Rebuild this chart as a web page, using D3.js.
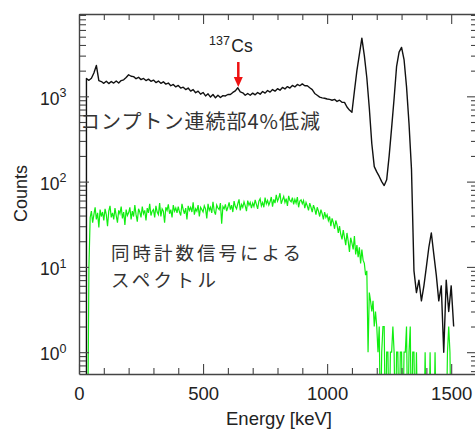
<!DOCTYPE html>
<html>
<head>
<meta charset="utf-8">
<script src="https://cdn.jsdelivr.net/npm/d3@7"></script>
<style>
  body { margin: 0; background: #fff; }
  svg { display: block; }
</style>
</head>
<body>
<div id="chart"></div>
<script>
// 通常スペクトル (黒): 30 keV から 10 keV ごとのカウント
const blackStart = 30, blackStep = 10;
const blackCounts = [
  1620, 1540, 1630, 1880, 2300, 1530, 1490, 1420, 1500, 1410,   // 30-120
  1490, 1430, 1510, 1430, 1530, 1560, 1660, 1790, 1720, 1700,   // 130-220
  1610, 1670, 1570, 1620, 1530, 1590, 1500, 1550, 1450, 1510,   // 230-320
  1420, 1480, 1390, 1430, 1330, 1380, 1290, 1340, 1250, 1280,   // 330-420
  1200, 1250, 1150, 1200, 1100, 1150, 1060, 1110, 1010, 1070,   // 430-520
  980, 1050, 960, 1030, 970, 1020, 1010, 1050, 1050, 1110,      // 530-620
  1160, 1260, 1130, 1100, 1030, 1080, 1030, 1090, 1040, 1110,   // 630-720
  1060, 1140, 1090, 1170, 1120, 1200, 1150, 1230, 1180, 1270,   // 730-820
  1220, 1300, 1250, 1340, 1290, 1380, 1330, 1400, 1330, 1330,   // 830-920
  1260, 1200, 1080, 1030, 980, 960, 950, 930, 920, 900,         // 930-1020
  920, 870, 900, 850, 850, 750, 690, 650, 1150, 2000,           // 1030-1120
  3100, 4800, 3000, 1650, 730, 280, 150, 130, 115, 100,         // 1130-1220
  90, 105, 200, 430, 950, 2250, 3300, 3750, 2700, 1300,         // 1230-1320
  480, 140, 9, 5, 7, 4, 6, 10, 17, 25,                          // 1330-1420
  14, 8, 4, 6, 1, 7, 3, 6, 2                                    // 1430-1510
];

// 同時計数信号によるスペクトル (緑): 35 keV から 5 keV ごとのカウント
const greenStart = 35, greenStep = 5;
const greenCounts = [
  0, 10,
  38, 45, 33, 41, 50, 36, 43, 29, 47, 39, 44,                               // 45-95
  35, 48, 41, 30, 45, 52, 38, 43, 36, 49, 40, 33, 46, 42, 51, 37, 44, 31, 47, 40, // 100-195
  43, 50, 36, 45, 39, 53, 41, 34, 48, 44, 38, 51, 42, 46, 35, 49, 43, 55, 40, 45, // 200-295
  47, 38, 52, 44, 41, 56, 39, 48, 45, 33, 50, 46, 54, 42, 47, 38, 53, 45, 49, 43, // 300-395
  51, 44, 40, 55, 47, 42, 49, 36, 52, 46, 50, 44, 57, 41, 48, 45, 53, 39, 50, 47, // 400-495
  44, 52, 48, 37, 55, 46, 50, 43, 58, 45, 41, 53, 49, 47, 56, 32, 51, 48, 54, 45, // 500-595
  50, 57, 47, 53, 44, 59, 51, 48, 55, 62, 46, 54, 50, 58, 52, 45, 60, 53, 57, 49, // 600-695
  56, 51, 61, 54, 48, 59, 63, 52, 57, 50, 65, 55, 60, 53, 58, 66, 51, 62, 56, 70, // 700-795
  59, 64, 73, 55, 61, 67, 57, 63, 52, 68, 60, 58, 65, 54, 62, 56, 66, 50, 59, 61, // 800-895
  55, 60, 49, 57, 52, 46, 56, 50, 44, 53, 48, 41, 50, 45, 39, 47, 42, 36, 44, 38, // 900-995
  41, 35, 39, 30, 37, 33, 28, 35, 31, 25, 30, 24, 21, 27, 22, 18, 25, 20, 15, 22, // 1000-1095
  19, 16, 23, 14, 18, 13, 17, 11, 16, 12, 11, 8, 9, 1, 5, 4, 3, 4, 2, 3,          // 1100-1195
  2, 1, 2, 0, 1, 2, 2, 0, 1, 1, 0, 1, 1, 2, 1, 0, 1, 1, 0, 1,                     // 1200-1295
  1, 0, 1, 1, 2, 0, 1, 2, 0, 1, 1, 0, 1, 0, 0, 0, 0, 0, 0, 1,                     // 1300-1395
  0, 0, 0, 1, 0, 0, 0, 1, 0, 0, 0, 0, 0, 0, 0, 0, 0, 1, 2, 1,                     // 1400-1495
  0                                                                               // 1500
];

// 目盛り
const xMajorTicks = [0, 500, 1000, 1500];
const yMajorTicks = [1, 10, 100, 1000];
const yExponents = ["0", "1", "2", "3"];

// 注記
const csEnergy = 642;
const textCompton = "コンプトン連続部4%低減";
const textCoinc1 = "同時計数信号による";
const textCoinc2 = "スペクトル";

const width = 475, height = 429;
const plotLeft = 79, plotRight = 476, plotTop = 14, plotBottom = 374;
const axisColor = "#444";
const latin = "'Liberation Sans', Arial, sans-serif";
const cjk = "'Noto Sans CJK JP', sans-serif";

const svg = d3.select("#chart").append("svg")
    .attr("width", width)
    .attr("height", height);

const x = d3.scaleLinear().domain([0, 1600]).range([plotLeft, plotRight]);
const y = d3.scaleLog().domain([0.555, 9230]).range([plotBottom, plotTop]);

svg.append("defs").append("clipPath").attr("id", "plot-clip")
    .append("rect")
    .attr("x", plotLeft).attr("y", plotTop)
    .attr("width", plotRight - plotLeft).attr("height", plotBottom - plotTop);

// データ点
const floor = 0.1; // 0カウントは軸の下へ
const blackData = blackCounts.map((c, i) => ({ e: blackStart + i * blackStep, c: c }));
blackData.unshift({ e: blackStart, c: 0 });
const greenData = greenCounts.map((c, i) => ({ e: greenStart + i * greenStep, c: c }));

const line = d3.line()
    .x(d => x(d.e))
    .y(d => y(Math.max(d.c, floor)));

const plot = svg.append("g").attr("clip-path", "url(#plot-clip)");

plot.append("path")
    .datum(blackData)
    .attr("fill", "none")
    .attr("stroke", "#111")
    .attr("stroke-width", 1.4)
    .attr("stroke-linejoin", "round")
    .attr("d", line);

plot.append("path")
    .datum(greenData)
    .attr("fill", "none")
    .attr("stroke", "#11ee11")
    .attr("stroke-width", 1.2)
    .attr("d", line);

// 軸
const xMinor = x.ticks(16).filter(v => v % 500 !== 0);
const yMinor = y.ticks().filter(v => !yMajorTicks.includes(v));

function styleAxis(g) {
    g.selectAll("line").attr("stroke", axisColor).attr("stroke-width", 1.1);
    g.selectAll(".domain").attr("stroke", axisColor).attr("stroke-width", 1.4);
}

// 下
svg.append("g")
    .attr("transform", `translate(0,${plotBottom})`)
    .call(d3.axisBottom(x).tickValues(xMajorTicks).tickFormat(d3.format("d"))
        .tickSizeInner(-10).tickSizeOuter(0).tickPadding(13))
    .call(styleAxis)
    .call(g => g.selectAll("text")
        .attr("font-family", latin).attr("font-size", 18.5).attr("fill", "#222"));
svg.append("g")
    .attr("transform", `translate(0,${plotBottom})`)
    .call(d3.axisBottom(x).tickValues(xMinor).tickSizeInner(-6).tickSizeOuter(0).tickFormat(""))
    .call(g => g.select(".domain").remove())
    .call(styleAxis);

// 上
svg.append("g")
    .attr("transform", `translate(0,${plotTop})`)
    .call(d3.axisTop(x).tickValues(xMajorTicks).tickSizeInner(-10).tickSizeOuter(0).tickFormat(""))
    .call(styleAxis);
svg.append("g")
    .attr("transform", `translate(0,${plotTop})`)
    .call(d3.axisTop(x).tickValues(xMinor).tickSizeInner(-6).tickSizeOuter(0).tickFormat(""))
    .call(g => g.select(".domain").remove())
    .call(styleAxis);

// 左
const yAxisLeft = svg.append("g")
    .attr("transform", `translate(${plotLeft},0)`)
    .call(d3.axisLeft(y).tickValues(yMajorTicks).tickSizeInner(-10).tickSizeOuter(0).tickFormat(""))
    .call(styleAxis);
svg.append("g")
    .attr("transform", `translate(${plotLeft},0)`)
    .call(d3.axisLeft(y).tickValues(yMinor).tickSizeInner(-7).tickSizeOuter(0).tickFormat(""))
    .call(g => g.select(".domain").remove())
    .call(styleAxis);

yAxisLeft.selectAll(".tick text").remove();
yAxisLeft.selectAll(".tick").append("text")
    .attr("x", -12.5)
    .attr("y", 7.7)
    .attr("text-anchor", "end")
    .attr("fill", "#222")
    .attr("font-family", latin)
    .attr("font-size", 17.5)
    .each(function(d, i) {
        const t = d3.select(this);
        t.append("tspan").text("10");
        t.append("tspan").attr("dy", -7.5).attr("font-size", 12.5).text(yExponents[i]);
    });

// 右
svg.append("g")
    .attr("transform", `translate(${plotRight},0)`)
    .call(d3.axisRight(y).tickValues(yMajorTicks).tickSizeInner(-9).tickSizeOuter(0).tickFormat(""))
    .call(styleAxis);
svg.append("g")
    .attr("transform", `translate(${plotRight},0)`)
    .call(d3.axisRight(y).tickValues(yMinor).tickSizeInner(-5).tickSizeOuter(0).tickFormat(""))
    .call(g => g.select(".domain").remove())
    .call(styleAxis);

// 軸ラベル
svg.append("text")
    .attr("transform", "translate(27,193.5) rotate(-90)")
    .attr("text-anchor", "middle")
    .attr("font-family", latin)
    .attr("font-size", 18)
    .attr("fill", "#222")
    .text("Counts");

svg.append("text")
    .attr("x", 279)
    .attr("y", 424.5)
    .attr("text-anchor", "middle")
    .attr("font-family", latin)
    .attr("font-size", 18.5)
    .attr("fill", "#222")
    .text("Energy [keV]");

// 137Cs と矢印
const csLabel = svg.append("text")
    .attr("x", 209)
    .attr("y", 52)
    .attr("font-family", latin)
    .attr("fill", "#222");
csLabel.append("tspan").attr("font-size", 12.5).attr("dy", -7).text("137");
csLabel.append("tspan").attr("font-size", 17.5).attr("dy", 7).attr("dx", 1.5).text("Cs");

const ax = x(csEnergy);
svg.append("line")
    .attr("x1", ax).attr("x2", ax)
    .attr("y1", 62).attr("y2", 79)
    .attr("stroke", "#ee1111")
    .attr("stroke-width", 2.5);
svg.append("path")
    .attr("d", `M${ax - 4.5},77 L${ax + 4.5},77 L${ax},87 Z`)
    .attr("fill", "#ee1111");

// 日本語注記
svg.append("text")
    .attr("x", 80)
    .attr("y", 129)
    .attr("font-family", cjk)
    .attr("font-size", 20)
    .attr("fill", "#333")
    .attr("textLength", 240)
    .attr("lengthAdjust", "spacing")
    .text(textCompton);

svg.append("text")
    .attr("x", 111)
    .attr("y", 259.5)
    .attr("font-family", cjk)
    .attr("font-size", 18.5)
    .attr("fill", "#333")
    .attr("textLength", 190)
    .attr("lengthAdjust", "spacing")
    .text(textCoinc1);

svg.append("text")
    .attr("x", 111)
    .attr("y", 286.5)
    .attr("font-family", cjk)
    .attr("font-size", 18.5)
    .attr("fill", "#333")
    .attr("textLength", 105)
    .attr("lengthAdjust", "spacing")
    .text(textCoinc2);
</script>
</body>
</html>
